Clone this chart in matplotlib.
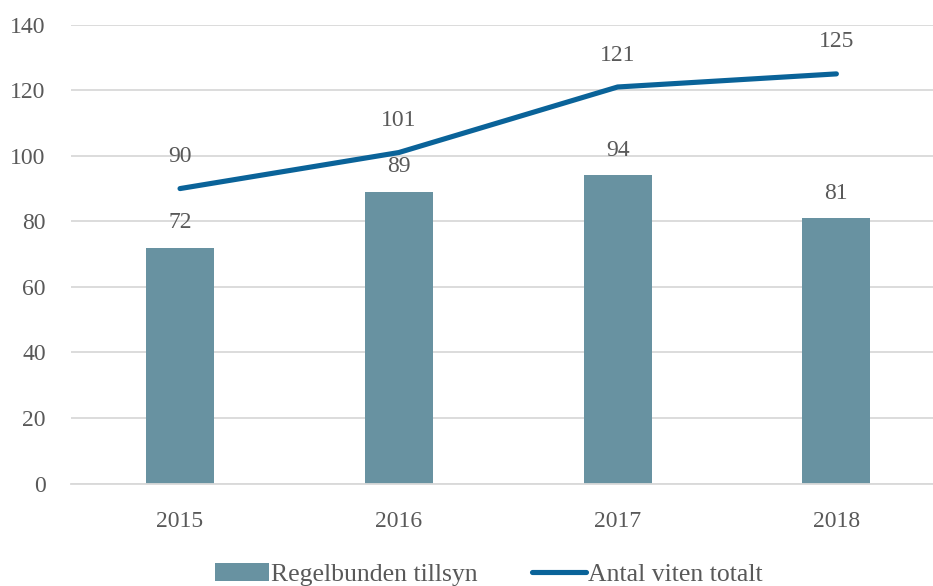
import matplotlib
matplotlib.use('Agg')
import matplotlib.pyplot as plt
import numpy as np

years = ['2015', '2016', '2017', '2018']
regelbunden = [72, 89, 94, 81]
viten_totalt = [90, 101, 121, 125]
yticks = [0, 20, 40, 60, 80, 100, 120, 140]

bar_color = '#6892A1'
line_color = '#0A6399'
text_color = '#595959'
grid_color = '#D9D9D9'

plt.rcParams['font.family'] = ['Liberation Serif', 'DejaVu Serif']
plt.rcParams['font.size'] = 17

fig = plt.figure(figsize=(9.33, 5.86), dpi=100)
ax = fig.add_axes([0.0757, 0.1749, 0.938, 0.7829])

x = np.arange(len(years))
bars = ax.bar(x, regelbunden, width=0.31, color=bar_color, zorder=2,
              label='Regelbunden tillsyn')
line, = ax.plot(x, viten_totalt, color=line_color, linewidth=3.7,
                solid_capstyle='round', zorder=3, label='Antal viten totalt')

for xi, v in zip(x, regelbunden):
    ax.annotate(str(v), (xi, v), xytext=(0, 18), textcoords='offset points',
                ha='center', va='center', color=text_color)
for xi, v in zip(x, viten_totalt):
    ax.annotate(str(v), (xi, v), xytext=(0, 23), textcoords='offset points',
                ha='center', va='center', color=text_color)

ax.set_xlim(-0.5, 3.5)
ax.set_ylim(0, 140)
ax.set_yticks(yticks)
ax.set_xticks(x)
ax.set_xticklabels(years)
ax.yaxis.grid(True, color=grid_color, linewidth=1.3, zorder=0)
ax.set_axisbelow(True)
for s in ['top', 'right', 'left']:
    ax.spines[s].set_visible(False)
ax.spines['bottom'].set_color(grid_color)
ax.spines['bottom'].set_linewidth(1.3)
ax.tick_params(axis='both', length=0, colors=text_color)
ax.tick_params(axis='y', pad=18)
ax.tick_params(axis='x', pad=20)

fig.legend([bars, line], ['Regelbunden tillsyn', 'Antal viten totalt'],
           loc='center', bbox_to_anchor=(0.524, 0.019), ncol=2, frameon=False,
           handlelength=2.1, handletextpad=0.1, columnspacing=2.1,
           labelcolor=text_color, prop={'size': 18.5})

fig.savefig('out.png', dpi=100)
